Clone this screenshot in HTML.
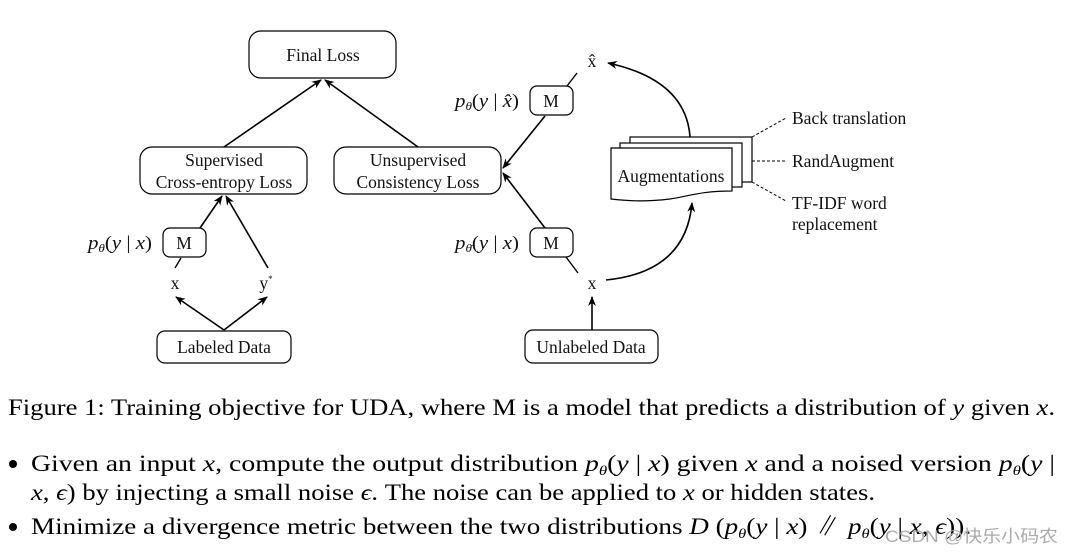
<!DOCTYPE html>
<html><head><meta charset="utf-8"><style>
html,body{margin:0;padding:0;background:#fff;}
svg{display:block;}
.d{font-family:"Liberation Serif",serif;font-size:17.5px;fill:#111;}
.m{font-family:"Liberation Serif",serif;font-style:italic;font-size:19px;fill:#111;}
.c{font-family:"Liberation Serif","Noto Serif CJK SC",serif;font-size:23px;fill:#000;}
</style></head><body>
<svg width="1073" height="554" viewBox="0 0 1073 554" xmlns="http://www.w3.org/2000/svg">
<defs><marker id="a" markerWidth="10" markerHeight="8" refX="9" refY="4" orient="auto" markerUnits="userSpaceOnUse"><path d="M0,0 L10,4 L0,8 L3,4 Z" fill="#000"/></marker></defs>
<g fill="none" stroke="#000" stroke-width="1.2">
<rect x="249" y="31" width="147" height="47" rx="12"/>
<rect x="140" y="147" width="167" height="47" rx="12"/>
<rect x="334" y="147" width="167" height="47" rx="12"/>
<rect x="163" y="228" width="43" height="29" rx="7"/>
<rect x="157" y="331" width="134" height="32" rx="8"/>
<rect x="530" y="86" width="43" height="29" rx="7"/>
<rect x="530" y="228" width="43" height="29" rx="7"/>
<rect x="525" y="330" width="133" height="33" rx="8"/>
</g>
<g stroke="#000" stroke-width="1.6" fill="none" marker-end="url(#a)">
<line x1="224" y1="147" x2="321" y2="80"/>
<line x1="418" y1="147" x2="325" y2="80"/>
<line x1="200" y1="228" x2="222" y2="196"/>
<line x1="268" y1="268" x2="226" y2="196"/>
<line x1="224" y1="330" x2="176" y2="297"/>
<line x1="224" y1="330" x2="267" y2="297"/>
<line x1="545" y1="116" x2="503" y2="168"/>
<line x1="545" y1="228" x2="503" y2="173"/>
<line x1="592" y1="330" x2="592" y2="297"/>
<path d="M606,280 Q686,272 692,203"/>
<path d="M690,137 Q686,80 608,63"/>
</g>
<g stroke="#000" stroke-width="1.4">
<line x1="181" y1="258" x2="175" y2="268"/>
<line x1="577" y1="73" x2="567" y2="86"/>
<line x1="566" y1="257" x2="578" y2="273"/>
</g>
<g fill="#fff" stroke="#000" stroke-width="1.2">
<rect x="630" y="137" width="122" height="45"/>
<rect x="620" y="143" width="122" height="44"/>
<path d="M611,148 L732,148 L732,191 C700,191 690,196 670,199 C645,202 630,201 611,199 Z"/>
</g>
<g stroke="#000" stroke-width="1" stroke-dasharray="3,2">
<line x1="752" y1="137" x2="786" y2="118"/>
<line x1="752" y1="161" x2="786" y2="161"/>
<line x1="752" y1="182" x2="786" y2="201"/>
</g>
<g class="d" text-anchor="middle">
<text x="323" y="61">Final Loss</text>
<text x="224" y="166">Supervised</text>
<text x="224" y="188">Cross-entropy Loss</text>
<text x="418" y="166">Unsupervised</text>
<text x="418" y="188">Consistency Loss</text>
<text x="184" y="249">M</text>
<text x="551" y="107">M</text>
<text x="551" y="249">M</text>
<text x="175" y="289">x</text>
<text x="266" y="289">y<tspan font-size="9" dy="-7">*</tspan></text>
<text x="224" y="353">Labeled Data</text>
<text x="591" y="353">Unlabeled Data</text>
<text x="592" y="289">x</text>
<text x="592" y="67">x̂</text>
<text x="671" y="182">Augmentations</text>
</g>
<g class="d">
<text x="792" y="124">Back translation</text>
<text x="792" y="167">RandAugment</text>
<text x="792" y="209">TF-IDF word</text>
<text x="792" y="230">replacement</text>
</g>
<g class="m">
<text x="88" y="249" textLength="64" lengthAdjust="spacingAndGlyphs">p<tspan font-size="12" dy="3">θ</tspan><tspan dy="-3" font-style="normal">(</tspan>y<tspan font-style="normal"> | </tspan>x<tspan font-style="normal">)</tspan></text>
<text x="455" y="107" textLength="64" lengthAdjust="spacingAndGlyphs">p<tspan font-size="12" dy="3">θ</tspan><tspan dy="-3" font-style="normal">(</tspan>y<tspan font-style="normal"> | </tspan>x̂<tspan font-style="normal">)</tspan></text>
<text x="455" y="249" textLength="64" lengthAdjust="spacingAndGlyphs">p<tspan font-size="12" dy="3">θ̄</tspan><tspan dy="-3" font-style="normal">(</tspan>y<tspan font-style="normal"> | </tspan>x<tspan font-style="normal">)</tspan></text>
</g>
<g class="c">
<text x="8" y="415" textLength="1047" lengthAdjust="spacingAndGlyphs">Figure 1: Training objective for UDA, where M is a model that predicts a distribution of <tspan font-style="italic">y</tspan> given <tspan font-style="italic">x</tspan>.</text>
<circle cx="13" cy="464" r="4" fill="#000"/>
<text x="31" y="471" textLength="1024" lengthAdjust="spacingAndGlyphs">Given an input <tspan font-style="italic">x</tspan>, compute the output distribution <tspan font-style="italic">p</tspan><tspan font-size="14" font-style="italic" dy="4">θ</tspan><tspan dy="-4">(</tspan><tspan font-style="italic">y</tspan> | <tspan font-style="italic">x</tspan>) given <tspan font-style="italic">x</tspan> and a noised version <tspan font-style="italic">p</tspan><tspan font-size="14" font-style="italic" dy="4">θ</tspan><tspan dy="-4">(</tspan><tspan font-style="italic">y</tspan> |</text>
<text x="31" y="500" textLength="844" lengthAdjust="spacingAndGlyphs"><tspan font-style="italic">x</tspan>, <tspan font-style="italic">ϵ</tspan>) by injecting a small noise <tspan font-style="italic">ϵ</tspan>. The noise can be applied to <tspan font-style="italic">x</tspan> or hidden states.</text>
<circle cx="13" cy="527" r="4" fill="#000"/>
<text x="31" y="534" textLength="940" lengthAdjust="spacingAndGlyphs">Minimize a divergence metric between the two distributions <tspan font-style="italic">D</tspan> (<tspan font-style="italic">p</tspan><tspan font-size="14" font-style="italic" dy="4">θ</tspan><tspan dy="-4">(</tspan><tspan font-style="italic">y</tspan> | <tspan font-style="italic">x</tspan>) ∥ <tspan font-style="italic">p</tspan><tspan font-size="14" font-style="italic" dy="4">θ</tspan><tspan dy="-4">(</tspan><tspan font-style="italic">y</tspan> | <tspan font-style="italic">x</tspan>, <tspan font-style="italic">ϵ</tspan>)).</text>
</g>
<text x="885" y="542" font-family="Liberation Sans,'Noto Sans CJK SC',sans-serif" font-size="17" fill="#aaa" textLength="173" lengthAdjust="spacingAndGlyphs">CSDN @快乐小码农</text>
</svg>
</body></html>
